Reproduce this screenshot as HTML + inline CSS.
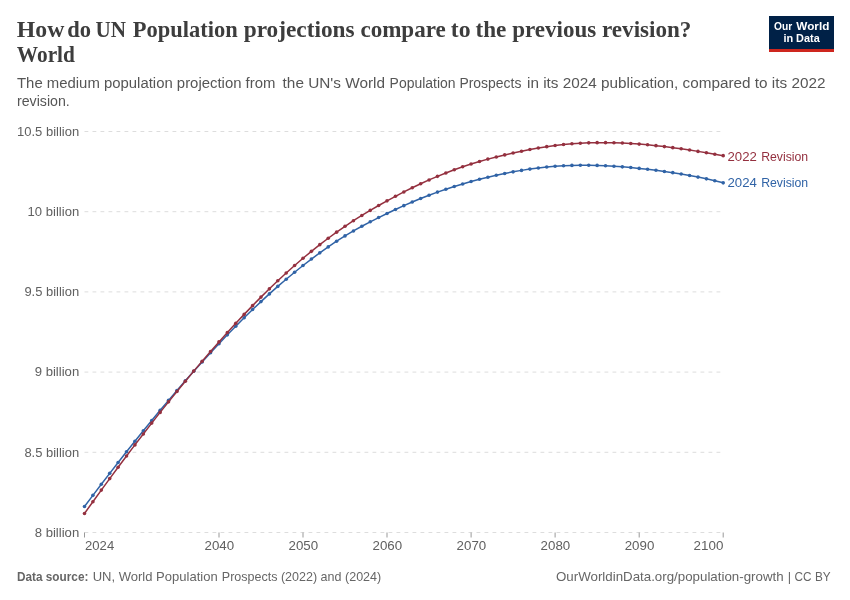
<!DOCTYPE html>
<html lang="en"><head><meta charset="utf-8"><title>How do UN Population projections compare to the previous revision?</title>
<style>
html,body{margin:0;padding:0;background:#fff;}
svg{display:block;}
text{font-family:"Liberation Sans",sans-serif;}
.title{font-family:"Liberation Serif",serif;font-weight:700;font-size:22.5px;fill:#3d3d3d;}
.sub{font-size:14px;fill:#565656;}
.ax{font-size:12.3px;fill:#606060;}
.xl{font-size:13.3px;}
.ft{font-size:12.8px;fill:#666666;}
.lg{font-size:11.3px;font-weight:700;fill:#fff;}
.sl{font-size:13px;}
</style></head><body>
<svg width="850" height="600" viewBox="0 0 850 600">
<rect width="850" height="600" fill="#ffffff"/>
<text x="16.8" y="36.8" class="title" textLength="47.5" lengthAdjust="spacingAndGlyphs">How</text>
<text x="67.3" y="36.8" class="title" textLength="23.8" lengthAdjust="spacingAndGlyphs">do</text>
<text x="95.6" y="36.8" class="title" textLength="30.5" lengthAdjust="spacingAndGlyphs">UN</text>
<text x="132.8" y="36.8" class="title" textLength="104.9" lengthAdjust="spacingAndGlyphs">Population</text>
<text x="243.7" y="36.8" class="title" textLength="110.9" lengthAdjust="spacingAndGlyphs">projections</text>
<text x="360.4" y="36.8" class="title" textLength="85.4" lengthAdjust="spacingAndGlyphs">compare</text>
<text x="450.8" y="36.8" class="title" textLength="19.8" lengthAdjust="spacingAndGlyphs">to</text>
<text x="475.5" y="36.8" class="title" textLength="30.9" lengthAdjust="spacingAndGlyphs">the</text>
<text x="512.2" y="36.8" class="title" textLength="84.0" lengthAdjust="spacingAndGlyphs">previous</text>
<text x="602.0" y="36.8" class="title" textLength="89.4" lengthAdjust="spacingAndGlyphs">revision?</text>
<text x="16.8" y="62.3" class="title" textLength="58.1" lengthAdjust="spacingAndGlyphs">World</text>
<text x="17" y="88.2" class="sub" textLength="258.4" lengthAdjust="spacingAndGlyphs">The medium population projection from</text>
<text x="282.6" y="88.2" class="sub" textLength="102.4" lengthAdjust="spacingAndGlyphs">the UN's World</text>
<text x="389.6" y="88.2" class="sub" textLength="131.8" lengthAdjust="spacingAndGlyphs">Population Prospects</text>
<text x="527" y="88.2" class="sub" textLength="298.4" lengthAdjust="spacingAndGlyphs">in its 2024 publication, compared to its 2022</text>
<text x="17" y="105.7" class="sub" textLength="52.8" lengthAdjust="spacingAndGlyphs">revision.</text>
<rect x="769" y="16" width="65" height="36" fill="#002147"/>
<rect x="769" y="49" width="65" height="3" fill="#ce261e"/>
<text x="774" y="30.3" class="lg" textLength="18.2" lengthAdjust="spacingAndGlyphs">Our</text>
<text x="796.3" y="30.3" class="lg" textLength="33" lengthAdjust="spacingAndGlyphs">World</text>
<text x="801.6" y="42.3" text-anchor="middle" class="lg" textLength="36.4" lengthAdjust="spacingAndGlyphs">in Data</text>
<line x1="84.5" x2="723.5" y1="532.5" y2="532.5" stroke="#dddddd" stroke-width="1" stroke-dasharray="3.8,4.2"/>
<text x="79.2" y="536.7" text-anchor="end" class="ax" textLength="44.5" lengthAdjust="spacingAndGlyphs">8 billion</text>
<line x1="84.5" x2="723.5" y1="452.3" y2="452.3" stroke="#dddddd" stroke-width="1" stroke-dasharray="3.8,4.2"/>
<text x="79.2" y="456.5" text-anchor="end" class="ax" textLength="54.8" lengthAdjust="spacingAndGlyphs">8.5 billion</text>
<line x1="84.5" x2="723.5" y1="372.1" y2="372.1" stroke="#dddddd" stroke-width="1" stroke-dasharray="3.8,4.2"/>
<text x="79.2" y="376.3" text-anchor="end" class="ax" textLength="44.5" lengthAdjust="spacingAndGlyphs">9 billion</text>
<line x1="84.5" x2="723.5" y1="291.9" y2="291.9" stroke="#dddddd" stroke-width="1" stroke-dasharray="3.8,4.2"/>
<text x="79.2" y="296.1" text-anchor="end" class="ax" textLength="54.8" lengthAdjust="spacingAndGlyphs">9.5 billion</text>
<line x1="84.5" x2="723.5" y1="211.7" y2="211.7" stroke="#dddddd" stroke-width="1" stroke-dasharray="3.8,4.2"/>
<text x="79.2" y="215.9" text-anchor="end" class="ax" textLength="51.6" lengthAdjust="spacingAndGlyphs">10 billion</text>
<line x1="84.5" x2="723.5" y1="131.5" y2="131.5" stroke="#dddddd" stroke-width="1" stroke-dasharray="3.8,4.2"/>
<text x="79.2" y="135.7" text-anchor="end" class="ax" textLength="62.2" lengthAdjust="spacingAndGlyphs">10.5 billion</text>
<line x1="84.5" x2="84.5" y1="532.5" y2="537.5" stroke="#999999" stroke-width="1"/>
<text x="85" y="550.3" class="ax xl" textLength="29.2" lengthAdjust="spacingAndGlyphs">2024</text>
<line x1="219.0" x2="219.0" y1="532.5" y2="537.5" stroke="#999999" stroke-width="1"/>
<text x="219.3" y="550.3" text-anchor="middle" class="ax xl" textLength="29.6" lengthAdjust="spacingAndGlyphs">2040</text>
<line x1="303.0" x2="303.0" y1="532.5" y2="537.5" stroke="#999999" stroke-width="1"/>
<text x="303.3" y="550.3" text-anchor="middle" class="ax xl" textLength="29.6" lengthAdjust="spacingAndGlyphs">2050</text>
<line x1="387.0" x2="387.0" y1="532.5" y2="537.5" stroke="#999999" stroke-width="1"/>
<text x="387.3" y="550.3" text-anchor="middle" class="ax xl" textLength="29.6" lengthAdjust="spacingAndGlyphs">2060</text>
<line x1="471.1" x2="471.1" y1="532.5" y2="537.5" stroke="#999999" stroke-width="1"/>
<text x="471.4" y="550.3" text-anchor="middle" class="ax xl" textLength="29.6" lengthAdjust="spacingAndGlyphs">2070</text>
<line x1="555.1" x2="555.1" y1="532.5" y2="537.5" stroke="#999999" stroke-width="1"/>
<text x="555.4" y="550.3" text-anchor="middle" class="ax xl" textLength="29.6" lengthAdjust="spacingAndGlyphs">2080</text>
<line x1="639.2" x2="639.2" y1="532.5" y2="537.5" stroke="#999999" stroke-width="1"/>
<text x="639.5" y="550.3" text-anchor="middle" class="ax xl" textLength="29.6" lengthAdjust="spacingAndGlyphs">2090</text>
<line x1="723.2" x2="723.2" y1="532.5" y2="537.5" stroke="#999999" stroke-width="1"/>
<text x="723.4" y="550.3" text-anchor="end" class="ax xl" textLength="29.8" lengthAdjust="spacingAndGlyphs">2100</text>
<path d="M84.50,506.52 L92.90,495.35 L101.31,484.29 L109.71,473.34 L118.12,462.50 L126.52,451.79 L134.92,441.22 L143.33,430.78 L151.73,420.50 L160.14,410.35 L168.54,400.36 L176.94,390.51 L185.35,380.82 L193.75,371.28 L202.16,361.91 L210.56,352.70 L218.96,343.68 L227.37,334.83 L235.77,326.19 L244.18,317.76 L252.58,309.55 L260.98,301.59 L269.39,293.88 L277.79,286.42 L286.20,279.21 L294.60,272.25 L303.00,265.53 L311.41,259.05 L319.81,252.83 L328.22,246.88 L336.62,241.24 L345.02,235.92 L353.43,230.93 L361.83,226.24 L370.24,221.79 L378.64,217.55 L387.04,213.46 L395.45,209.50 L403.85,205.67 L412.26,201.99 L420.66,198.49 L429.06,195.18 L437.47,192.08 L445.87,189.18 L454.28,186.47 L462.68,183.93 L471.08,181.54 L479.49,179.30 L487.89,177.21 L496.30,175.26 L504.70,173.47 L513.10,171.84 L521.51,170.38 L529.91,169.09 L538.32,167.97 L546.72,167.04 L555.12,166.31 L563.53,165.77 L571.93,165.41 L580.34,165.24 L588.74,165.25 L597.14,165.42 L605.55,165.76 L613.95,166.23 L622.36,166.84 L630.76,167.57 L639.16,168.39 L647.57,169.31 L655.97,170.32 L664.38,171.43 L672.78,172.66 L681.18,174.01 L689.59,175.48 L697.99,177.09 L706.40,178.85 L714.80,180.76 L723.20,182.83" fill="none" stroke="#3063a6" stroke-width="1.5" stroke-linejoin="round" stroke-linecap="round"/>
<g fill="#3063a6"><circle cx="84.50" cy="506.52" r="1.8"/><circle cx="92.90" cy="495.35" r="1.8"/><circle cx="101.31" cy="484.29" r="1.8"/><circle cx="109.71" cy="473.34" r="1.8"/><circle cx="118.12" cy="462.50" r="1.8"/><circle cx="126.52" cy="451.79" r="1.8"/><circle cx="134.92" cy="441.22" r="1.8"/><circle cx="143.33" cy="430.78" r="1.8"/><circle cx="151.73" cy="420.50" r="1.8"/><circle cx="160.14" cy="410.35" r="1.8"/><circle cx="168.54" cy="400.36" r="1.8"/><circle cx="176.94" cy="390.51" r="1.8"/><circle cx="185.35" cy="380.82" r="1.8"/><circle cx="193.75" cy="371.28" r="1.8"/><circle cx="202.16" cy="361.91" r="1.8"/><circle cx="210.56" cy="352.70" r="1.8"/><circle cx="218.96" cy="343.68" r="1.8"/><circle cx="227.37" cy="334.83" r="1.8"/><circle cx="235.77" cy="326.19" r="1.8"/><circle cx="244.18" cy="317.76" r="1.8"/><circle cx="252.58" cy="309.55" r="1.8"/><circle cx="260.98" cy="301.59" r="1.8"/><circle cx="269.39" cy="293.88" r="1.8"/><circle cx="277.79" cy="286.42" r="1.8"/><circle cx="286.20" cy="279.21" r="1.8"/><circle cx="294.60" cy="272.25" r="1.8"/><circle cx="303.00" cy="265.53" r="1.8"/><circle cx="311.41" cy="259.05" r="1.8"/><circle cx="319.81" cy="252.83" r="1.8"/><circle cx="328.22" cy="246.88" r="1.8"/><circle cx="336.62" cy="241.24" r="1.8"/><circle cx="345.02" cy="235.92" r="1.8"/><circle cx="353.43" cy="230.93" r="1.8"/><circle cx="361.83" cy="226.24" r="1.8"/><circle cx="370.24" cy="221.79" r="1.8"/><circle cx="378.64" cy="217.55" r="1.8"/><circle cx="387.04" cy="213.46" r="1.8"/><circle cx="395.45" cy="209.50" r="1.8"/><circle cx="403.85" cy="205.67" r="1.8"/><circle cx="412.26" cy="201.99" r="1.8"/><circle cx="420.66" cy="198.49" r="1.8"/><circle cx="429.06" cy="195.18" r="1.8"/><circle cx="437.47" cy="192.08" r="1.8"/><circle cx="445.87" cy="189.18" r="1.8"/><circle cx="454.28" cy="186.47" r="1.8"/><circle cx="462.68" cy="183.93" r="1.8"/><circle cx="471.08" cy="181.54" r="1.8"/><circle cx="479.49" cy="179.30" r="1.8"/><circle cx="487.89" cy="177.21" r="1.8"/><circle cx="496.30" cy="175.26" r="1.8"/><circle cx="504.70" cy="173.47" r="1.8"/><circle cx="513.10" cy="171.84" r="1.8"/><circle cx="521.51" cy="170.38" r="1.8"/><circle cx="529.91" cy="169.09" r="1.8"/><circle cx="538.32" cy="167.97" r="1.8"/><circle cx="546.72" cy="167.04" r="1.8"/><circle cx="555.12" cy="166.31" r="1.8"/><circle cx="563.53" cy="165.77" r="1.8"/><circle cx="571.93" cy="165.41" r="1.8"/><circle cx="580.34" cy="165.24" r="1.8"/><circle cx="588.74" cy="165.25" r="1.8"/><circle cx="597.14" cy="165.42" r="1.8"/><circle cx="605.55" cy="165.76" r="1.8"/><circle cx="613.95" cy="166.23" r="1.8"/><circle cx="622.36" cy="166.84" r="1.8"/><circle cx="630.76" cy="167.57" r="1.8"/><circle cx="639.16" cy="168.39" r="1.8"/><circle cx="647.57" cy="169.31" r="1.8"/><circle cx="655.97" cy="170.32" r="1.8"/><circle cx="664.38" cy="171.43" r="1.8"/><circle cx="672.78" cy="172.66" r="1.8"/><circle cx="681.18" cy="174.01" r="1.8"/><circle cx="689.59" cy="175.48" r="1.8"/><circle cx="697.99" cy="177.09" r="1.8"/><circle cx="706.40" cy="178.85" r="1.8"/><circle cx="714.80" cy="180.76" r="1.8"/><circle cx="723.20" cy="182.83" r="1.8"/></g>
<path d="M84.50,513.44 L92.90,501.70 L101.31,490.09 L109.71,478.60 L118.12,467.24 L126.52,456.01 L134.92,444.91 L143.33,433.93 L151.73,423.10 L160.14,412.40 L168.54,401.85 L176.94,391.44 L185.35,381.20 L193.75,371.12 L202.16,361.20 L210.56,351.46 L218.96,341.90 L227.37,332.52 L235.77,323.35 L244.18,314.38 L252.58,305.63 L260.98,297.11 L269.39,288.84 L277.79,280.81 L286.20,273.04 L294.60,265.53 L303.00,258.30 L311.41,251.34 L319.81,244.65 L328.22,238.25 L336.62,232.13 L345.02,226.30 L353.43,220.74 L361.83,215.45 L370.24,210.38 L378.64,205.52 L387.04,200.84 L395.45,196.32 L403.85,191.95 L412.26,187.76 L420.66,183.75 L429.06,179.94 L437.47,176.33 L445.87,172.93 L454.28,169.74 L462.68,166.76 L471.08,164.00 L479.49,161.45 L487.89,159.10 L496.30,156.93 L504.70,154.90 L513.10,152.99 L521.51,151.20 L529.91,149.52 L538.32,147.99 L546.72,146.64 L555.12,145.47 L563.53,144.52 L571.93,143.77 L580.34,143.22 L588.74,142.85 L597.14,142.66 L605.55,142.64 L613.95,142.78 L622.36,143.07 L630.76,143.51 L639.16,144.09 L647.57,144.81 L655.97,145.65 L664.38,146.61 L672.78,147.67 L681.18,148.82 L689.59,150.06 L697.99,151.38 L706.40,152.76 L714.80,154.19 L723.20,155.67" fill="none" stroke="#94303f" stroke-width="1.5" stroke-linejoin="round" stroke-linecap="round"/>
<g fill="#94303f"><circle cx="84.50" cy="513.44" r="1.8"/><circle cx="92.90" cy="501.70" r="1.8"/><circle cx="101.31" cy="490.09" r="1.8"/><circle cx="109.71" cy="478.60" r="1.8"/><circle cx="118.12" cy="467.24" r="1.8"/><circle cx="126.52" cy="456.01" r="1.8"/><circle cx="134.92" cy="444.91" r="1.8"/><circle cx="143.33" cy="433.93" r="1.8"/><circle cx="151.73" cy="423.10" r="1.8"/><circle cx="160.14" cy="412.40" r="1.8"/><circle cx="168.54" cy="401.85" r="1.8"/><circle cx="176.94" cy="391.44" r="1.8"/><circle cx="185.35" cy="381.20" r="1.8"/><circle cx="193.75" cy="371.12" r="1.8"/><circle cx="202.16" cy="361.20" r="1.8"/><circle cx="210.56" cy="351.46" r="1.8"/><circle cx="218.96" cy="341.90" r="1.8"/><circle cx="227.37" cy="332.52" r="1.8"/><circle cx="235.77" cy="323.35" r="1.8"/><circle cx="244.18" cy="314.38" r="1.8"/><circle cx="252.58" cy="305.63" r="1.8"/><circle cx="260.98" cy="297.11" r="1.8"/><circle cx="269.39" cy="288.84" r="1.8"/><circle cx="277.79" cy="280.81" r="1.8"/><circle cx="286.20" cy="273.04" r="1.8"/><circle cx="294.60" cy="265.53" r="1.8"/><circle cx="303.00" cy="258.30" r="1.8"/><circle cx="311.41" cy="251.34" r="1.8"/><circle cx="319.81" cy="244.65" r="1.8"/><circle cx="328.22" cy="238.25" r="1.8"/><circle cx="336.62" cy="232.13" r="1.8"/><circle cx="345.02" cy="226.30" r="1.8"/><circle cx="353.43" cy="220.74" r="1.8"/><circle cx="361.83" cy="215.45" r="1.8"/><circle cx="370.24" cy="210.38" r="1.8"/><circle cx="378.64" cy="205.52" r="1.8"/><circle cx="387.04" cy="200.84" r="1.8"/><circle cx="395.45" cy="196.32" r="1.8"/><circle cx="403.85" cy="191.95" r="1.8"/><circle cx="412.26" cy="187.76" r="1.8"/><circle cx="420.66" cy="183.75" r="1.8"/><circle cx="429.06" cy="179.94" r="1.8"/><circle cx="437.47" cy="176.33" r="1.8"/><circle cx="445.87" cy="172.93" r="1.8"/><circle cx="454.28" cy="169.74" r="1.8"/><circle cx="462.68" cy="166.76" r="1.8"/><circle cx="471.08" cy="164.00" r="1.8"/><circle cx="479.49" cy="161.45" r="1.8"/><circle cx="487.89" cy="159.10" r="1.8"/><circle cx="496.30" cy="156.93" r="1.8"/><circle cx="504.70" cy="154.90" r="1.8"/><circle cx="513.10" cy="152.99" r="1.8"/><circle cx="521.51" cy="151.20" r="1.8"/><circle cx="529.91" cy="149.52" r="1.8"/><circle cx="538.32" cy="147.99" r="1.8"/><circle cx="546.72" cy="146.64" r="1.8"/><circle cx="555.12" cy="145.47" r="1.8"/><circle cx="563.53" cy="144.52" r="1.8"/><circle cx="571.93" cy="143.77" r="1.8"/><circle cx="580.34" cy="143.22" r="1.8"/><circle cx="588.74" cy="142.85" r="1.8"/><circle cx="597.14" cy="142.66" r="1.8"/><circle cx="605.55" cy="142.64" r="1.8"/><circle cx="613.95" cy="142.78" r="1.8"/><circle cx="622.36" cy="143.07" r="1.8"/><circle cx="630.76" cy="143.51" r="1.8"/><circle cx="639.16" cy="144.09" r="1.8"/><circle cx="647.57" cy="144.81" r="1.8"/><circle cx="655.97" cy="145.65" r="1.8"/><circle cx="664.38" cy="146.61" r="1.8"/><circle cx="672.78" cy="147.67" r="1.8"/><circle cx="681.18" cy="148.82" r="1.8"/><circle cx="689.59" cy="150.06" r="1.8"/><circle cx="697.99" cy="151.38" r="1.8"/><circle cx="706.40" cy="152.76" r="1.8"/><circle cx="714.80" cy="154.19" r="1.8"/><circle cx="723.20" cy="155.67" r="1.8"/></g>

<text x="727.5" y="160.5" class="sl" fill="#94303f" textLength="29.4" lengthAdjust="spacingAndGlyphs">2022</text>
<text x="761.2" y="160.5" class="sl" fill="#94303f" textLength="47" lengthAdjust="spacingAndGlyphs">Revision</text>
<text x="727.5" y="187.3" class="sl" fill="#3063a6" textLength="29.4" lengthAdjust="spacingAndGlyphs">2024</text>
<text x="761.2" y="187.3" class="sl" fill="#3063a6" textLength="47" lengthAdjust="spacingAndGlyphs">Revision</text>
<text x="17" y="581" class="ft"><tspan font-weight="700" textLength="71.4" lengthAdjust="spacingAndGlyphs">Data source:</tspan></text>
<text x="92.7" y="581" class="ft" textLength="125" lengthAdjust="spacingAndGlyphs">UN, World Population</text>
<text x="221.8" y="581" class="ft" textLength="159.4" lengthAdjust="spacingAndGlyphs">Prospects (2022) and (2024)</text>
<text x="556" y="580.9" class="ft" textLength="227.6" lengthAdjust="spacingAndGlyphs">OurWorldinData.org/population-growth</text>
<text x="789.5" y="580.9" text-anchor="middle" class="ft">|</text>
<text x="794.6" y="580.9" class="ft" textLength="36" lengthAdjust="spacingAndGlyphs">CC BY</text>
</svg>
</body></html>
